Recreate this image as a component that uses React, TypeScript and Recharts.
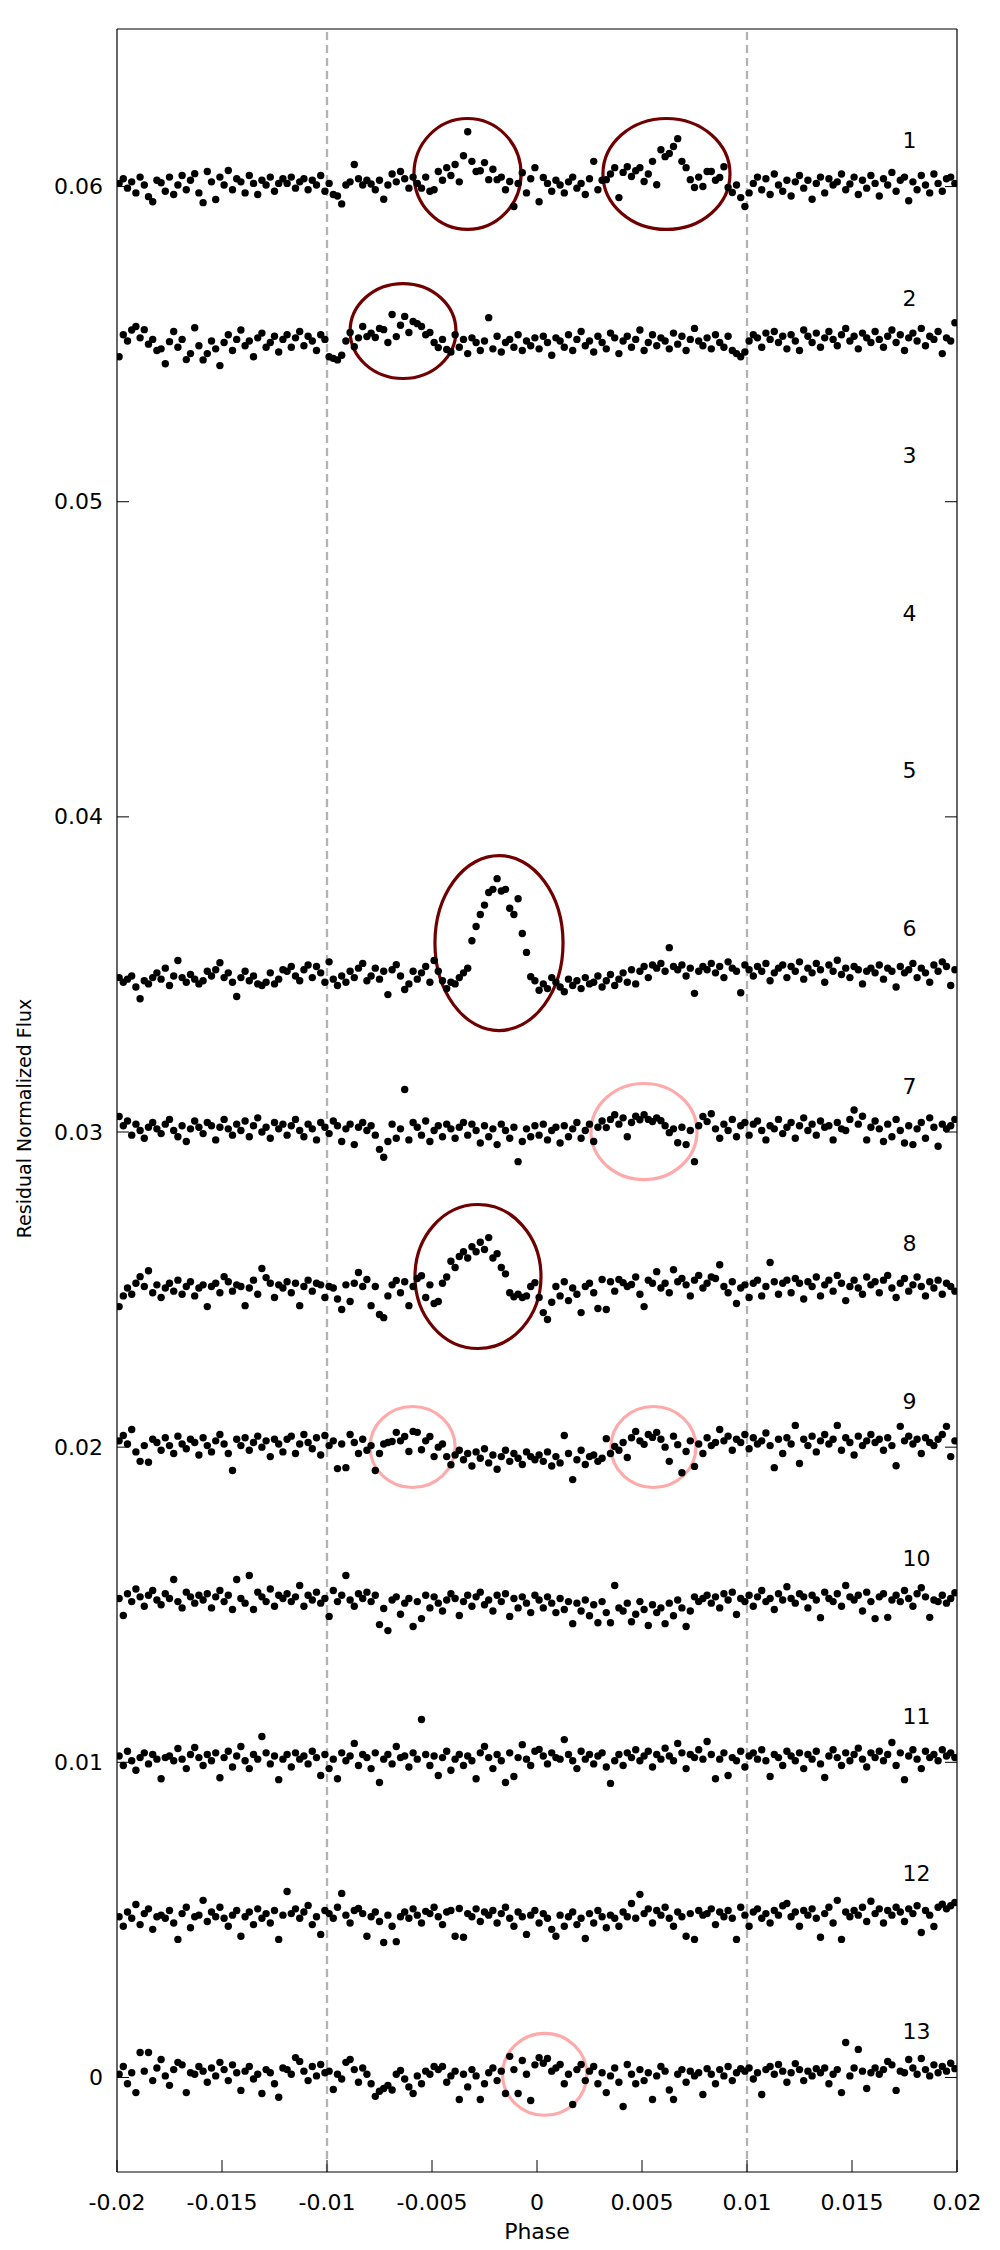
import React from 'react';
import { ScatterChart, Scatter, XAxis, YAxis, ReferenceLine, ReferenceArea } from 'recharts';

// ---------- data ----------
const PHASE_START = -0.0199;
const PHASE_STEP = 0.0002;
const N_POINTS = 200;
const PHASES: number[] = Array.from({ length: N_POINTS }, (_, i) => +(PHASE_START + i * PHASE_STEP).toFixed(4));

const ROW_NAMES = ['1', '2', '3', '4', '5', '6', '7', '8', '9', '10', '11', '12', '13'];
const ROW_BASES = [0.06, 0.055, 0.05, 0.045, 0.04, 0.035, 0.03, 0.025, 0.02, 0.015, 0.01, 0.005, 0];
const RESID_UNIT = 1e-5; // residuals below are in units of 1e-5 flux

const ROW1 = [10, 25, -5, 15, -20, 30, 5, -32, -48, 20, 12, -15, 30, -25, 5, 35, -10, 20, 41, -20,
  -51, 48, 15, -41, 30, 5, 51, -10, 25, 15, -20, 35, 10, -25, 20, 5, 30, -15, 10, 25,
  10, 30, -5, 15, 25, -10, 20, 5, 35, -15, 10, -25, -30, -55, 5, 15, 70, 25, 5, 20,
  8, -10, 20, -40, 5, 40, 15, 48, 25, -5, 30, 10, -5, 30, -15, -10, 48, 20, 60, 35,
  70, 15, 98, 174, 80, 48, 50, 76, 22, 55, 22, 30, -10, 16, -63, 10, 44, -20, 25, 60,
  -48, 29, 10, -15, 20, 5, -20, 15, 30, -5, 10, -25, 25, 80, -10, 20, 22, 40, 60, -35,
  45, 63, 32, 50, 60, 16, 40, 80, 6, 117, 95, 105, 127, 152, 80, 60, 22, -3, 30, 0,
  48, 48, 20, 29, 63, -3, -19, 5, -35, -63, -20, 10, 30, -10, 25, -25, 40, 5, -15, 20,
  -30, 15, 35, -5, 20, -40, 10, 30, -20, 25, 5, 15, 40, -10, 8, 30, -25, 20, -5, 35,
  10, -30, 25, 5, 45, -15, 20, 30, -45, 15, -10, 35, 5, -20, 40, 10, -15, 25, 30, 10];

const ROW2 = [-40, 30, 10, 45, 56, 20, 46, 0, 15, -20, -15, -62, 8, 40, -10, 15, -49, -30, 52, -5,
  -50, -30, 10, -15, -68, 5, 30, -20, 15, 45, -5, 10, -40, 20, 35, -10, 5, 25, -25, 15,
  30, -10, 20, 40, -5, 25, 10, -20, 30, 15, -40, -45, -50, -35, 10, 37, -8, 20, 56, 24,
  35, 21, 50, 46, 5, 94, 24, 60, 88, 37, 72, 65, 56, 30, 37, 5, -11, 15, -17, -25,
  30, -10, 15, -30, 20, 5, -20, 10, 84, -15, 25, -25, 5, 15, -10, 30, -20, 10, -5, 20,
  -15, 25, 5, -35, 20, 10, -10, 30, -20, 15, 40, -5, 10, -25, 25, 5, -15, 35, 20, -30,
  10, 25, -10, 15, 45, -20, 5, 30, -5, 20, 10, -15, 35, 0, 25, -20, 15, 50, 10, -5,
  20, -15, 30, 5, -10, 25, -20, -30, -40, -25, 10, 30, 20, -10, 35, 15, 40, 5, 25, -15,
  30, 10, -20, 45, 25, 5, 35, -10, 20, 40, 15, -5, 30, 50, 10, 25, -15, 35, 20, 5,
  40, 15, -10, 25, 45, 5, 30, -20, 20, 35, 10, 50, -5, 25, 15, 40, -30, 20, 10, 68];

const ROW6 = [-10, -25, -15, -5, -40, -77, -20, -30, -10, 5, -15, 20, -35, -5, 44, -10, -25, 0, -15, -30,
  -20, 10, -5, 15, 37, -10, 5, -25, -70, -10, 10, -20, -5, -30, -35, -25, 5, -30, -15, 15,
  10, 25, -5, -20, 15, 30, -10, 25, 5, -25, 40, -15, -35, -5, -25, 10, -10, 20, 35, -20,
  -5, 20, -15, 10, -64, 15, 31, -5, -48, -30, 10, -15, 5, 25, -25, 44, 10, -20, -45, -25,
  -30, -10, 5, 20, 107, 152, 190, 220, 260, 270, 304, 265, 270, 210, 190, 240, 130, 70, -7, -20,
  -50, -30, -45, -10, -25, -40, -55, -15, -35, -20, -45, -10, -30, -25, -5, -40, -20, 0, -35, -15,
  5, -25, 15, -30, 10, 25, -10, 30, 20, 35, 10, 85, 25, 15, 30, -5, 20, -60, 10, 25,
  15, 35, 5, 25, -10, 40, 20, 10, -58, 30, 15, -5, 25, 10, 35, -20, 5, 20, 30, -10,
  25, 10, 40, -15, 20, 5, 35, 15, -25, 30, 10, 45, 0, 20, -10, 25, 15, -30, 10, 20,
  5, 30, -15, 20, 10, -40, 25, 5, 15, 35, -10, 20, 5, -25, 30, 10, 40, 25, -35, 15];

const ROW7 = [49, 20, 35, -10, 25, 5, -20, 15, 30, 10, -5, 25, 40, 5, -15, 20, -30, 10, 35, 15,
  -5, 30, 20, -25, 15, 40, 10, -10, 25, 5, 35, -15, 20, 45, 0, 15, -20, 30, 10, 25,
  -10, 20, 40, 5, -15, 25, 10, -25, 30, 15, -5, 35, 20, -30, 10, 25, -40, 15, 30, 5,
  20, -10, -55, -80, -30, 25, -20, 10, 135, -25, 30, 15, -10, 35, -30, 5, 20, -15, 25, 10,
  -20, 15, 30, -10, 25, 5, -35, 20, -15, 10, -40, 25, 5, -20, 15, -94, -30, 10, -15, 20,
  -10, 25, -25, 5, 15, -35, 20, -15, 10, 30, -20, 5, 25, -30, 15, 35, 14, 40, 55, 25,
  45, -15, 30, 50, 39, 55, 40, 33, 45, 36, 20, -2, 10, -34, 15, -40, 5, -94, 20, 49,
  33, 58, 10, -20, 25, 5, 40, -15, 20, 30, -10, 25, 35, 5, -25, 20, 10, 40, -5, 15,
  30, -20, 20, 45, 5, 25, -10, 35, 15, 20, -25, 30, 10, 5, 40, 70, 25, 50, -25, 15,
  35, 10, -30, 25, -15, 40, 5, -35, 20, -40, 10, 30, -20, 45, 15, -45, 25, 10, 20, 40];

const ROW8 = [-54, -20, 5, -15, 20, 41, 10, 60, -10, 15, -25, 5, 20, -5, 30, -15, 10, 25, -20, 5,
  15, -54, 10, 20, -10, 41, 25, -5, 15, 10, -51, 5, 30, -15, 67, 38, 20, -25, 15, 5,
  25, -10, 20, -51, 10, 30, -5, 20, 15, -25, 10, 5, -30, -63, 15, -38, 20, 54, 10, 32,
  -51, 10, -79, -89, -20, 15, 29, -10, 25, -51, 10, 35, 44, -25, 15, -44, -38, 20, 40, 90,
  70, 105, 120, 100, 136, 120, 150, 127, 165, 100, 114, 70, 50, -10, -23, -15, -25, -20, 10, 22,
  -25, -73, -95, -40, 10, -20, 25, -35, 5, -15, -73, 10, 20, -10, -60, 32, -63, 25, -5, 32,
  22, 10, 16, 40, -15, -54, 30, 20, 57, 5, 20, -10, 63, 25, 35, 15, -20, 30, 45, 5,
  20, 40, 35, 79, 10, -10, 25, -44, 5, 15, -25, 20, 30, -20, 10, 86, 25, -15, 20, 30,
  -10, 35, 20, -30, 25, 10, 40, -20, 15, 30, -5, 45, 20, -35, 10, 30, 5, -15, 40, 15,
  25, -10, 30, 45, 5, -25, 20, 35, -5, 15, 40, 10, -20, 25, 5, 30, -15, 20, 10, -5];

const ROW9 = [20, 37, 10, 56, -15, -45, 5, -48, 25, 15, -10, 30, 5, -20, 35, 10, -5, 25, 15, -25,
  30, 5, -15, 20, 40, 10, -20, -74, 25, 5, 30, -10, 15, 35, 0, 20, -30, 25, 10, -15,
  25, 35, -20, 10, 40, 15, -5, 30, -25, 37, 5, 20, -68, 10, -65, 40, 15, -20, 25, -10,
  5, -74, -20, 10, 15, 18, 47, 20, 34, -14, 50, 47, -8, 20, 34, -30, 0, 10, -30, -56,
  -25, -10, -40, -20, -60, -15, -35, -5, -50, -25, -70, -30, -10, -45, -20, -35, -55, -15, -30, -40,
  -25, -45, -15, -60, -30, -50, 37, -20, -103, -40, -10, -55, -30, -25, -45, -35, 27, -20, 2, -10,
  15, -33, 30, 50, 20, 9, 40, 31, 47, 25, 0, -45, 35, 8, -81, -14, 20, -61, 10, -20,
  30, 5, 15, 56, 20, 35, -10, 25, 15, 40, -5, 30, 10, 20, 45, 5, -65, 25, -20, 30,
  10, 69, -52, 25, 5, 35, -15, 20, 40, 10, 25, 69, -10, 30, 15, -25, 35, 5, 20, 40,
  15, 25, -10, 30, 5, -59, 66, 20, 35, 10, 25, -20, 30, 15, 5, 25, 40, 66, -30, 20];

const ROW10 = [20, -34, 35, 10, 50, 25, -5, 30, 45, 15, 0, 35, 20, 80, 10, -10, 40, 25, 5, 30,
  15, 35, -10, 25, 45, 10, 30, -15, 80, 20, 5, 93, -15, 40, 25, 10, 50, -5, 30, 20,
  35, 10, 25, 61, -5, 30, 15, 40, 5, 20, -37, 45, 10, 30, 93, 15, -5, 35, 20, 40,
  10, 30, -63, -12, -82, 15, 25, -30, 5, 20, -69, 10, -44, 30, -10, 25, 5, -20, 15, 35,
  20, -34, 10, 30, -5, 25, 40, 0, 15, -20, 30, 10, 35, -37, 20, -10, 25, 5, -25, 30,
  15, -10, 25, 5, -25, 20, -15, 10, -60, 5, -20, 15, -35, 0, -57, 10, -25, -57, 61, -10,
  -20, 5, -54, -30, 10, -15, -66, 0, -25, -10, -60, 5, -35, 15, -10, -69, -20, 25, 10, 20,
  30, 5, 25, -10, 35, 15, 40, -31, 20, 10, 30, -5, 25, 45, 10, 20, -15, 35, 15, 57,
  20, 5, 35, 25, -10, 30, 15, -41, 40, 20, 10, 35, -5, 61, 25, 15, 30, -20, 40, 10,
  -44, 25, 35, -40, 15, 30, 10, 45, 20, -5, 35, 54, 25, -40, 15, 10, 30, 5, 20, 38];

const ROW11 = [20, -10, 35, 5, -25, 15, 30, -5, 25, 10, -52, 15, 20, 5, 44, 10, -20, 25, 47, 15,
  -10, 25, 5, 30, -49, 15, 35, -15, 20, 50, 5, -20, 25, 10, 82, 30, -5, 20, -55, 10,
  25, -15, 30, 10, 20, -5, 35, 15, -42, 25, -20, 10, -52, 30, 5, 20, 60, -10, 25, 15,
  -20, 30, -64, 10, 25, -5, 50, 15, 20, -15, 30, 10, 136, 25, -10, 20, -42, 15, 35, -25,
  10, 25, -10, 20, 5, -52, 30, 50, 15, -20, 25, 5, -64, 30, -45, 15, 56, 10, -10, 35,
  41, 20, -5, 30, 15, 10, 72, 25, 5, -20, 35, 10, 25, -5, 20, 30, -15, -67, 5, 25,
  -10, 30, 15, 40, 5, 20, 35, -15, 25, 10, 45, 20, 5, 60, 30, -20, 25, 15, 40, 10,
  66, 25, -52, 10, 30, -42, 15, 5, 35, -15, 20, 30, 10, 40, 5, -45, 25, 15, -10, 35,
  20, 5, 30, -20, 25, 10, 35, -5, -48, 20, 40, 15, -10, 30, 5, 25, 45, 10, -15, 30,
  15, 35, 5, 25, 63, -10, 30, -55, 20, 40, 10, -20, 35, 15, 25, 5, 40, 20, 30, 15];

const ROW12 = [10, -20, 25, 5, 49, -15, 20, 35, -30, 10, 15, 5, 30, -10, -62, 20, 40, -25, 10, 15,
  62, -5, 25, 10, 40, 5, -20, 15, 30, -52, 10, 25, -15, 35, 5, 20, -10, 30, -62, 15,
  90, 20, 35, 5, 25, 46, -15, 10, -46, 30, 20, 5, 40, 84, 15, -10, 30, 36, 20, -52,
  10, 25, -5, -72, 15, -20, -69, 10, 25, 5, 35, 15, -10, 27, 20, 40, 10, -15, 25, 30,
  -52, 36, -55, 20, 10, 35, -5, 25, 15, 30, -10, 20, 40, 5, -20, 25, 10, -46, 15, 30,
  -10, 20, 5, -30, -52, 15, -20, 10, 25, -15, 5, -59, 20, -10, 30, 10, -25, 15, 5, -20,
  25, 10, 52, 5, 81, 20, 35, -10, 30, 15, 40, 5, -20, 25, 10, -52, 20, -62, 30, 15,
  20, 35, -15, 25, 10, 30, 5, -62, 40, 15, -20, 25, 35, 5, 20, -10, 30, 15, 45, 52,
  10, 25, -20, 30, 15, 35, 5, -55, 20, 40, -10, 62, -62, 25, 10, 30, 15, 40, -5, 59,
  20, 35, -10, 30, 15, 40, 25, -5, 35, 20, 45, -40, 30, 15, -21, 40, 50, 35, 45, 55];

const ROW13 = [10, 35, -20, 15, -48, 79, 20, 79, -10, 30, 57, 5, -25, 25, 48, 40, -48, 15, 10, 35,
  20, -15, 30, 5, 48, 25, -10, 40, 15, -41, 20, 35, -5, 10, -51, 25, 15, -20, -63, 30,
  25, 10, 63, 51, 20, -10, 35, 5, 41, 15, 20, -38, 10, -5, 48, 57, 25, -15, 30, 10,
  -20, -60, -44, -35, -25, -40, 10, 22, -5, -30, -51, 5, -20, 20, 10, 35, 25, 35, -15, 5,
  20, -70, 10, -30, 25, 5, -70, -20, 15, 30, -10, 20, -51, 67, 25, -51, 54, 10, -73, 40,
  63, 45, 60, 20, 30, 41, -20, 10, -86, 25, 41, -10, 20, 35, -20, 15, -48, 5, 30, -15,
  -92, 41, 10, -20, 25, -10, 15, -70, 5, 35, 20, -40, -70, 10, 25, -15, 20, 5, 15, -54,
  28, 10, -20, 25, 5, 35, -10, 15, 28, 20, 30, -5, 15, -54, 25, 35, 10, 41, 20, -15,
  15, 44, 25, -10, 20, 5, 28, 15, 30, -20, 10, 25, -48, 111, 5, 30, 89, 20, -35, 15,
  30, 10, 25, 51, 40, -41, 20, 15, 57, 30, 10, 60, 25, 5, 40, 15, 35, 20, 45, 28];

// rows 3, 4 and 5 carry no points
const ROW_RESIDUALS: Record<string, number[]> = {
  '1': ROW1, '2': ROW2, '6': ROW6, '7': ROW7, '8': ROW8, '9': ROW9,
  '10': ROW10, '11': ROW11, '12': ROW12, '13': ROW13,
};

// highlighted features (data-space bounds)
const ELLIPSE_X1 = [-0.00586, 0.00314, -0.0089, -0.00486, 0.00257, -0.00581, -0.00795, 0.00352, -0.00164];
const ELLIPSE_X2 = [-0.00076, 0.00919, -0.00386, 0.00124, 0.00762, 0.00019, -0.0039, 0.00757, 0.00237];
const ELLIPSE_Y1 = [0.05864, 0.05864, 0.05391, 0.03322, 0.02849, 0.02313, 0.01872, 0.01872, -0.0012];
const ELLIPSE_Y2 = [0.06216, 0.06216, 0.05692, 0.03877, 0.03154, 0.0277, 0.02129, 0.02129, 0.0014];
const ELLIPSE_KIND = ['strong', 'strong', 'strong', 'strong', 'weak', 'strong', 'weak', 'weak', 'weak'];

const X_TICKS = [-0.02, -0.015, -0.01, -0.005, 0, 0.005, 0.01, 0.015, 0.02];
const Y_TICKS = [0, 0.01, 0.02, 0.03, 0.04, 0.05, 0.06];
const X_DOMAIN: [number, number] = [-0.02, 0.02];
const Y_DOMAIN: [number, number] = [-0.003, 0.065];
const MARKER_LINES = [-0.01, 0.01];
const LABEL_X = 0.0174;
const LABEL_DY = 0.00146;

// ---------- styles ----------
const FONT = 'DejaVu Sans';
const FS = 22;
const YLABEL_FS = 19;
const TICK_LEN = 12;
const STRONG = '#700000';
const WEAK = '#ffaaaa';

const fmt = (v: number) => String(Number(Number(v).toFixed(3)));

const LeftTick = (p: any) => (
  <g>
    <line x1={p.x} y1={p.y} x2={p.x + TICK_LEN} y2={p.y} stroke="#000" strokeWidth={1} />
    <text x={p.x - 14} y={p.y} textAnchor="end" dominantBaseline="central" fontSize={FS} fontFamily={FONT} fill="#000">
      {fmt(p.payload.value)}
    </text>
  </g>
);
const RightTick = (p: any) => (
  <line x1={p.x} y1={p.y} x2={p.x - TICK_LEN} y2={p.y} stroke="#000" strokeWidth={1} />
);
const BottomTick = (p: any) => (
  <g>
    <line x1={p.x} y1={p.y} x2={p.x} y2={p.y - TICK_LEN} stroke="#000" strokeWidth={1} />
    <text x={p.x} y={p.y + 38} textAnchor="middle" fontSize={FS} fontFamily={FONT} fill="#000">
      {fmt(p.payload.value)}
    </text>
  </g>
);
const TopTick = (p: any) => (
  <line x1={p.x} y1={p.y} x2={p.x} y2={p.y + TICK_LEN} stroke="#000" strokeWidth={1} />
);

const YLabel = (props: any) => {
  const vb = props.viewBox || { x: 0, y: 29, width: 117, height: 2143 };
  const cx = 24;
  const cy = vb.y + vb.height / 2 + 18;
  return (
    <text x={cx} y={cy} transform={`rotate(-90 ${cx} ${cy})`} textAnchor="middle" dominantBaseline="central"
      fontSize={YLABEL_FS} fontFamily={FONT} fill="#000">
      Residual Normalized Flux
    </text>
  );
};
const XLabel = (props: any) => {
  const vb = props.viewBox || { x: 117, y: 2172, width: 840, height: 78 };
  return (
    <text x={vb.x + vb.width / 2} y={vb.y + 67} textAnchor="middle" fontSize={FS} fontFamily={FONT} fill="#000">
      Phase
    </text>
  );
};

const Dot = (p: any) => <circle cx={p.cx} cy={p.cy} r={3.7} fill="#000" />;
const RowLabel = (p: any) => (
  <text x={p.cx} y={p.cy} textAnchor="start" dominantBaseline="central" fontSize={FS} fontFamily={FONT} fill="#000">
    {p.payload.name}
  </text>
);
const makeEllipse = (color: string) => (p: any) => (
  <ellipse cx={p.x + p.width / 2} cy={p.y + p.height / 2} rx={Math.abs(p.width) / 2} ry={Math.abs(p.height) / 2}
    fill="none" stroke={color} strokeWidth={3.2} />
);

const rowData = (name: string) => {
  const idx = ROW_NAMES.indexOf(name);
  const vals = ROW_RESIDUALS[name];
  return PHASES.map((ph, i) => ({ x: ph, y: ROW_BASES[idx] + vals[i] * RESID_UNIT }));
};

const labelData = ROW_NAMES.map((n, i) => ({ x: LABEL_X, y: ROW_BASES[i] + LABEL_DY, name: n }));

export default function App() {
  return (
    <div style={{ position: 'absolute', left: 0, top: 0, width: 1000, height: 2250, background: '#fff' }}>
      <ScatterChart width={1000} height={2250} margin={{ top: 0, right: 0, bottom: 0, left: 0 }}>
        <XAxis dataKey="x" type="number" domain={X_DOMAIN} ticks={X_TICKS} interval={0} height={78}
          axisLine={{ stroke: '#000', strokeWidth: 1.2 }} tickLine={false} tickSize={0} tickMargin={0}
          tick={BottomTick} label={<XLabel />} allowDataOverflow />
        <XAxis xAxisId="top" orientation="top" type="number" domain={X_DOMAIN} ticks={X_TICKS} interval={0} height={29}
          axisLine={{ stroke: '#000', strokeWidth: 1.2 }} tickLine={false} tickSize={0} tickMargin={0}
          tick={TopTick} allowDataOverflow />
        <YAxis dataKey="y" type="number" domain={Y_DOMAIN} ticks={Y_TICKS} interval={0} width={117}
          axisLine={{ stroke: '#000', strokeWidth: 1.2 }} tickLine={false} tickSize={0} tickMargin={0}
          tick={LeftTick} label={<YLabel />} allowDataOverflow />
        <YAxis yAxisId="right" orientation="right" type="number" domain={Y_DOMAIN} ticks={Y_TICKS} interval={0} width={43}
          axisLine={{ stroke: '#000', strokeWidth: 1.2 }} tickLine={false} tickSize={0} tickMargin={0}
          tick={RightTick} allowDataOverflow />
        {MARKER_LINES.map((v) => (
          <ReferenceLine key={'m' + v} x={v} stroke="#b3b3b3" strokeWidth={2.3} strokeDasharray="8 5" />
        ))}
        {ROW_NAMES.filter((n) => ROW_RESIDUALS[n]).map((n) => (
          <Scatter key={'r' + n} name={'row ' + n} data={rowData(n)} shape={Dot} isAnimationActive={false} />
        ))}
        {ELLIPSE_X1.map((x1, i) => (
          <ReferenceArea key={'e' + i} x1={x1} x2={ELLIPSE_X2[i]} y1={ELLIPSE_Y1[i]} y2={ELLIPSE_Y2[i]}
            shape={makeEllipse(ELLIPSE_KIND[i] === 'strong' ? STRONG : WEAK)} />
        ))}
        <Scatter name="labels" data={labelData} shape={RowLabel} isAnimationActive={false} />
      </ScatterChart>
    </div>
  );
}
